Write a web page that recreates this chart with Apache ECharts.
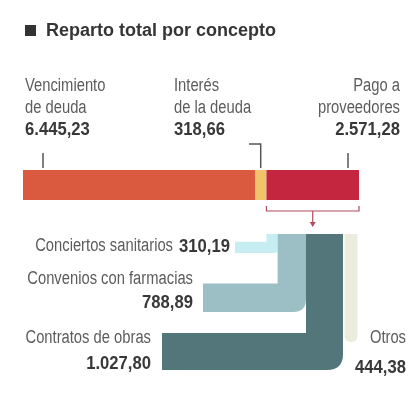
<!DOCTYPE html>
<html><head><meta charset="utf-8">
<script src="https://cdn.jsdelivr.net/npm/echarts@6/dist/echarts.min.js"></script>
<style>html,body{margin:0;padding:0;background:#fff}#c{width:414px;height:397px}</style>
</head><body><div id="c"></div>
<script>
// ---- data ----
const titleText = 'Reparto total por concepto';
const mainNames = [['Vencimiento', 'de deuda'], ['Interés', 'de la deuda'], ['Pago a', 'proveedores']];
const mainValues = [6445.23, 318.66, 2571.28];
const subNames = ['Conciertos sanitarios', 'Convenios con farmacias', 'Contratos de obras', 'Otros'];
const subValues = [310.19, 788.89, 1027.80, 444.38];

// ---- styles / layout ----
const mainColors = ['#d95a3e', '#f1c46b', '#c3263e'];
const subColors = ['#c6edf1', '#9cbfc6', '#53767b', '#ebecde'];
const flowLayout = [
  {bottom: 253, left: 235, r: 3},
  {bottom: 312, left: 203, r: 13},
  {bottom: 370, left: 162, r: 16},
  {bottom: 342, left: null, r: 6}
];
const flowTop = 234;

const FAM = "'Liberation Sans', Arial, sans-serif";
const regFont = 'normal 18px ' + FAM;
const boldFont = 'bold 18.5px ' + FAM;
const regScale = 0.82, boldScale = 0.9;
const regColor = '#5c5c5c', boldColor = '#383838';

function fmt(v) {
  const p = v.toFixed(2).split('.');
  return p[0].replace(/\B(?=(\d{3})+(?!\d))/g, '.') + ',' + p[1];
}

const total = mainValues.reduce((a, b) => a + b, 0);
const mainStarts = [];
{ let c = 0; for (const v of mainValues) { mainStarts.push(c); c += v; } }
const subStarts = [];
{ let c = mainStarts[2]; for (const v of subValues) { subStarts.push(c); c += v; } }

function renderFlow(params, api) {
  const x1 = api.coord([api.value(0), 0])[0];
  const x2 = api.coord([api.value(1), 0])[0];
  const i = api.value(2);
  const L = flowLayout[i];
  const fill = subColors[i];
  if (L.left == null) {
    return {type: 'rect', shape: {x: x1 + 1.5, y: flowTop, width: x2 - x1 - 3, height: L.bottom - flowTop, r: [0, 0, L.r, L.r]}, style: {fill}};
  }
  const t = x2 - x1, yb = L.bottom, yt = yb - t, r = L.r;
  const d = 'M' + x1 + ' ' + flowTop + ' L' + x2 + ' ' + flowTop + ' L' + x2 + ' ' + (yb - r) +
    ' Q' + x2 + ' ' + yb + ' ' + (x2 - r) + ' ' + yb + ' L' + L.left + ' ' + yb + ' L' + L.left + ' ' + yt +
    ' L' + x1 + ' ' + yt + ' Z';
  return {type: 'path', shape: {pathData: d}, style: {fill}};
}

const chart = echarts.init(document.getElementById('c'), null, {renderer: 'canvas'});
chart.setOption({
  animation: false,
  backgroundColor: '#fff',
  grid: {left: 23, width: 336, top: 170, height: 30},
  xAxis: {type: 'value', min: 0, max: total, show: false},
  yAxis: {type: 'category', data: ['total'], show: false},
  series: mainValues.map((v, i) => ({
    type: 'bar', stack: 'main', data: [v], barWidth: 30, silent: true,
    itemStyle: {color: mainColors[i]}
  })).concat([{
    type: 'custom', renderItem: renderFlow, clip: false, silent: true,
    encode: {x: [0, 1]},
    data: subValues.map((v, i) => [subStarts[i], subStarts[i] + v, i])
  }])
});

const px = v => chart.convertToPixel({xAxisIndex: 0}, v);
const g = [];
function txt(x, y, text, bold, align) {
  g.push({type: 'text', x: x, y: y, scaleX: bold ? boldScale : regScale,
    style: {text: text, font: bold ? boldFont : regFont, fill: bold ? boldColor : regColor, align: align, verticalAlign: 'middle'}});
}
// title
g.push({type: 'rect', shape: {x: 25, y: 25, width: 11, height: 11}, style: {fill: '#333'}});
g.push({type: 'text', x: 46, y: 31, style: {text: titleText, font: 'bold 18px ' + FAM, fill: '#353535', align: 'left', verticalAlign: 'middle'}});

// top labels
const lineY = [86, 108.5, 130];
const anchors = [{x: 25, align: 'left'}, {x: 174, align: 'left'}, {x: 400, align: 'right'}];
mainNames.forEach((nm, i) => {
  const a = anchors[i];
  txt(a.x, lineY[0], nm[0], false, a.align);
  txt(a.x, lineY[1], nm[1], false, a.align);
  txt(a.x, lineY[2], fmt(mainValues[i]), true, a.align);
});

// ticks
const tickStroke = {stroke: '#555', lineWidth: 1.5, fill: 'none'};
const xV = px(mainStarts[0]) + 20;
g.push({type: 'polyline', shape: {points: [[xV, 153], [xV, 168]]}, style: tickStroke});
const xI = px(mainStarts[1] + mainValues[1] / 2);
g.push({type: 'polyline', shape: {points: [[249, 144], [xI, 144], [xI, 168]]}, style: tickStroke});
const xP = px(total) - 11;
g.push({type: 'polyline', shape: {points: [[xP, 153], [xP, 168]]}, style: tickStroke});

// bracket + arrow
const bx1 = px(mainStarts[2]), bx2 = px(total), bm = (bx1 + bx2) / 2;
const brc = '#b04a5c';
g.push({type: 'polyline', shape: {points: [[bx1, 206], [bx1, 211], [bx2, 211], [bx2, 206]]}, style: {stroke: brc, lineWidth: 1.2, fill: 'none'}});
g.push({type: 'polyline', shape: {points: [[bm, 211], [bm, 223]]}, style: {stroke: brc, lineWidth: 1.2, fill: 'none'}});
g.push({type: 'polygon', shape: {points: [[bm - 3, 222], [bm + 3, 222], [bm, 227]]}, style: {fill: brc}});

// sub labels
txt(173, 246.5, subNames[0], false, 'right');
txt(230, 246.5, fmt(subValues[0]), true, 'right');
txt(193, 279, subNames[1], false, 'right');
txt(193, 302.5, fmt(subValues[1]), true, 'right');
txt(151, 338.5, subNames[2], false, 'right');
txt(151, 363.5, fmt(subValues[2]), true, 'right');
txt(406, 338.5, subNames[3], false, 'right');
txt(406, 367.5, fmt(subValues[3]), true, 'right');

chart.setOption({graphic: {elements: g.map(e => Object.assign({silent: true}, e))}});
</script></body></html>
